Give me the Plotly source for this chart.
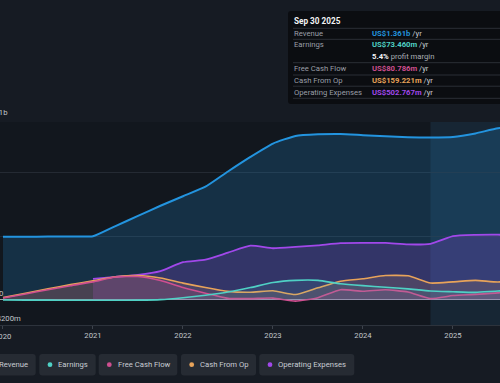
import plotly.graph_objects as go

# ---------------- data (US$ billions, trailing twelve months) ----------------
quarters = [2020.0, 2020.25, 2020.5, 2020.75, 2021.0, 2021.25, 2021.5, 2021.75,
            2022.0, 2022.25, 2022.5, 2022.75, 2023.0, 2023.25, 2023.5, 2023.75,
            2024.0, 2024.25, 2024.5, 2024.75, 2025.0, 2025.25, 2025.5, 2025.75]

revenue = [0.495, 0.496, 0.497, 0.498, 0.500, 0.580, 0.660, 0.740,
           0.815, 0.890, 1.010, 1.125, 1.230, 1.290, 1.303, 1.306,
           1.296, 1.287, 1.280, 1.278, 1.282, 1.310, 1.350, 1.361]

earnings = [-0.003, -0.004, -0.004, -0.005, -0.005, -0.005, -0.004, 0.000,
            0.015, 0.035, 0.060, 0.095, 0.135, 0.152, 0.152, 0.125,
            0.110, 0.098, 0.085, 0.068, 0.062, 0.057, 0.068, 0.073]

free_cash_flow = [0.013, 0.045, 0.078, 0.110, 0.140, 0.178, 0.182, 0.150,
                  0.095, 0.050, 0.010, 0.008, 0.012, -0.012, 0.015, 0.078,
                  0.066, 0.078, 0.060, 0.008, 0.032, 0.041, 0.053, 0.081]

cash_from_op = [0.016, 0.050, 0.085, 0.118, 0.148, 0.180, 0.190, 0.170,
                0.130, 0.095, 0.065, 0.058, 0.070, 0.040, 0.093, 0.145,
                0.165, 0.190, 0.188, 0.131, 0.140, 0.152, 0.139, 0.159]

opex_quarters = quarters[4:]
operating_expenses = [0.163, 0.180, 0.195, 0.225, 0.295, 0.315, 0.370, 0.425,
                      0.405, 0.415, 0.428, 0.445, 0.447, 0.447, 0.435, 0.440,
                      0.500, 0.510, 0.512, 0.503]

year_ticks = [2020, 2021, 2022, 2023, 2024, 2025]
year_labels = ["2020", "2021", "2022", "2023", "2024", "2025"]

series_names = ["Revenue", "Earnings", "Free Cash Flow", "Cash From Op", "Operating Expenses"]
series_colors = ["#2394df", "#4fd1c5", "#cf4f90", "#e8a35a", "#a148ea"]

tooltip_date = "Sep 30 2025"
tooltip_values = ["US$1.361b", "US$73.460m", "US$80.786m", "US$159.221m", "US$502.767m"]
profit_margin = "5.4%"

# ---------------- geometry helpers (pixel -> paper) ----------------
W, H = 500, 383
T, B = 122, 58
PH = H - T - B
X0_YEAR, PX_PER_YEAR = 2019.967, 90.0


def px(x):
    return x / W


def py(y):
    return (H - B - y) / PH


FONT = "Roboto"
FS = 7.7
PAD = 2  # annotation inner padding
fig = go.Figure()


def rgba(hexc, a):
    hexc = hexc.lstrip("#")
    r, g, b = int(hexc[0:2], 16), int(hexc[2:4], 16), int(hexc[4:6], 16)
    return f"rgba({r},{g},{b},{a})"


def add_series(xs, ys, idx, width, fa):
    fig.add_trace(go.Scatter(
        x=xs, y=ys, mode="lines", name=series_names[idx],
        line=dict(color=series_colors[idx], width=width, shape="spline", smoothing=0.5),
        fill="tozeroy", fillcolor=rgba(series_colors[idx], fa),
        hoverinfo="skip", showlegend=False))


add_series(quarters, revenue, 0, 2, 0.20)
add_series(opex_quarters, operating_expenses, 4, 1.8, 0.22)
add_series(quarters, cash_from_op, 3, 1.6, 0.14)
add_series(quarters, free_cash_flow, 2, 1.6, 0.14)
add_series(quarters, earnings, 1, 1.6, 0.10)

shapes = []
annotations = []

shapes.append(dict(type="rect", xref="x", yref="paper", x0=2024.75, x1=2026.5, y0=0, y1=1,
                   fillcolor="rgba(60,140,200,0.13)", line=dict(width=0), layer="below"))

lab_col = "#c3c7cd"
# y-axis value labels (right edges as seen)
for txt, xr, yc in [("US$1b", 8, 113), ("0", 2.7, 293), ("-US$200m", 21, 318)]:
    annotations.append(dict(text=txt, xref="paper", yref="paper", x=px(xr + PAD), y=py(yc),
                            xanchor="right", yanchor="middle", showarrow=False,
                            font=dict(size=FS, color=lab_col, family=FONT)))

# first year label drawn centred on its tick (partly off-canvas like the original)
annotations.append(dict(text=year_labels[0], xref="x", yref="paper", x=year_ticks[0], y=py(336),
                        xanchor="center", yanchor="middle", showarrow=False,
                        font=dict(size=FS, color=lab_col, family=FONT)))
tick_text = [""] + year_labels[1:]


def rounded_rect(x0, y0, x1, y1, r, fill):
    p = (f"M {px(x0 + r)},{py(y0)} L {px(x1 - r)},{py(y0)} Q {px(x1)},{py(y0)} {px(x1)},{py(y0 + r)} "
         f"L {px(x1)},{py(y1 - r)} Q {px(x1)},{py(y1)} {px(x1 - r)},{py(y1)} "
         f"L {px(x0 + r)},{py(y1)} Q {px(x0)},{py(y1)} {px(x0)},{py(y1 - r)} "
         f"L {px(x0)},{py(y0 + r)} Q {px(x0)},{py(y0)} {px(x0 + r)},{py(y0)} Z")
    return dict(type="path", xref="paper", yref="paper", path=p, fillcolor=fill,
                line=dict(width=0), layer="above")


# ---------------- tooltip box ----------------
shapes.append(rounded_rect(288, 11, 512, 104, 3, "#0b0d11"))
for ysep in [28.3, 39.3, 62.7, 75, 86.2, 98.3]:
    shapes.append(dict(type="line", xref="paper", yref="paper", x0=px(293), x1=px(512),
                       y0=py(ysep), y1=py(ysep), line=dict(color="#2b2f36", width=1), layer="above"))

annotations.append(dict(text=f"<b>{tooltip_date}</b>", xref="paper", yref="paper",
                        x=px(293.5 - PAD), y=py(21.3), xanchor="left", yanchor="middle", showarrow=False,
                        font=dict(size=8.2, color="#f2f3f5", family=FONT)))
row_y = [33.7, 45.0, 68.3, 80.7, 92.3]
for i in range(5):
    annotations.append(dict(text=series_names[i], xref="paper", yref="paper",
                            x=px(294 - PAD), y=py(row_y[i]), xanchor="left", yanchor="middle",
                            showarrow=False, font=dict(size=FS, color="#9a9fa7", family=FONT)))
    annotations.append(dict(
        text=f"<b><span style='color:{series_colors[i]}'>{tooltip_values[i]}</span></b>"
             f"<span style='color:#c8ccd2'> /yr</span>",
        xref="paper", yref="paper", x=px(372 - PAD), y=py(row_y[i]), xanchor="left", yanchor="middle",
        showarrow=False, font=dict(size=FS, color="#c8ccd2", family=FONT)))
annotations.append(dict(text=f"<b>{profit_margin}</b><span style='color:#a9aeb5'> profit margin</span>",
                        xref="paper", yref="paper", x=px(372 - PAD), y=py(56.7), xanchor="left",
                        yanchor="middle", showarrow=False,
                        font=dict(size=FS, color="#f2f3f5", family=FONT)))

# ---------------- custom legend ----------------
leg_boxes = [(-22, 35.7), (39.3, 95.7), (98.7, 177.3), (181, 256), (259.3, 354.3)]
leg_dots = [-10, 50, 109.3, 191.7, 270]
leg_text = [-1, 58.3, 117.7, 200, 278.3]
ly0, ly1, lyc = 354, 375.5, 364.7
for i in range(5):
    x0, x1 = leg_boxes[i]
    shapes.append(rounded_rect(x0, ly0, x1, ly1, 3, "#262b33"))
    d = 2.4
    shapes.append(dict(type="circle", xref="paper", yref="paper",
                       x0=px(leg_dots[i] - d), x1=px(leg_dots[i] + d),
                       y0=py(lyc - d), y1=py(lyc + d),
                       fillcolor=series_colors[i], line=dict(width=0), layer="above"))
    annotations.append(dict(text=series_names[i], xref="paper", yref="paper",
                            x=px(leg_text[i] - PAD), y=py(lyc), xanchor="left", yanchor="middle",
                            showarrow=False, font=dict(size=FS, color="#c9cdd3", family=FONT)))

fig.update_layout(
    width=W, height=H, autosize=False,
    margin=dict(l=0, r=0, t=T, b=B, pad=0),
    paper_bgcolor="#161b23", plot_bgcolor="#12171e",
    font=dict(family=FONT, size=FS, color="#c3c7cd"),
    showlegend=False,
    shapes=shapes, annotations=annotations,
    xaxis=dict(range=[X0_YEAR, X0_YEAR + W / PX_PER_YEAR], tickvals=year_ticks, ticktext=tick_text,
               showgrid=False, zeroline=False, showline=True, linecolor="#2d333c", linewidth=1,
               ticks="outside", ticklen=3, tickcolor="#3d434c", ticklabeloverflow="allow",
               tickfont=dict(size=FS, color=lab_col, family=FONT), fixedrange=True),
    yaxis=dict(range=[-0.2, 1.4], tickvals=[0, 0.5, 1.0, 1.4], showticklabels=False,
               showgrid=True, gridcolor="#242a33", gridwidth=1,
               zeroline=True, zerolinecolor="#a3a7ad", zerolinewidth=1, fixedrange=True),
)

fig.write_html("out.html", config={"displayModeBar": False},
               post_script="document.body.style.margin='0';document.body.style.background='#161b23';")
